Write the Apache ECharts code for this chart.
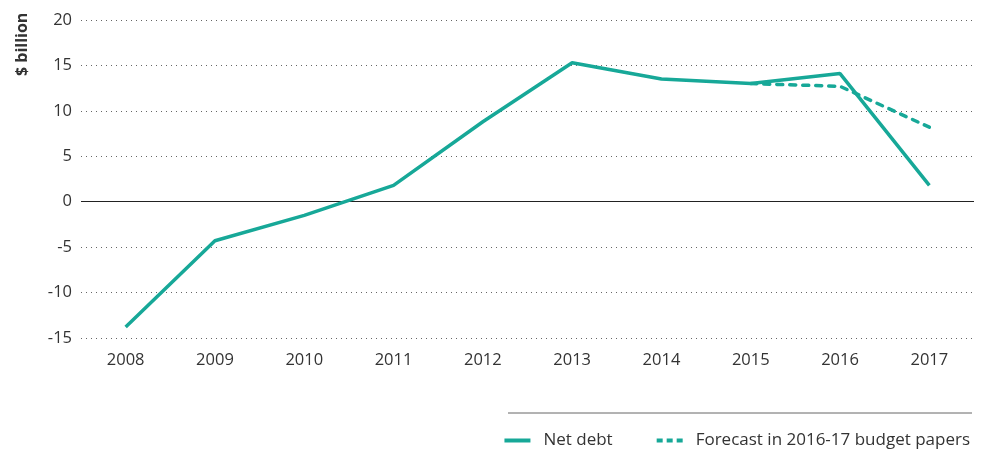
<!DOCTYPE html>
<html>
<head>
<meta charset="utf-8">
<script src="https://cdn.jsdelivr.net/npm/echarts@6/dist/echarts.min.js"></script>
<style>
  html, body { margin: 0; padding: 0; background: #fff; }
  #chart { width: 983px; height: 450px; }
</style>
</head>
<body>
<div id="chart"></div>
<script>
// Financial years and net debt, $ billion
const years = ['2008', '2009', '2010', '2011', '2012', '2013', '2014', '2015', '2016', '2017'];
const netDebt = [-13.8, -4.3, -1.5, 1.8, 8.8, 15.3, 13.5, 13.0, 14.1, 1.8];
const forecast = [null, null, null, null, null, null, null, 13.0, 12.7, 8.2];
const yTicks = { min: -15, max: 20, interval: 5 };

const teal = '#17a898';
const textColor = '#333333';
const font = 'Open Sans';

// Legend swatches: a solid bar and a row of short dashes
const solidIcon = 'path://M0,0h26v4h-26z';
const dashIcon = 'path://M0,0h6v4h-6z M10,0h6v4h-6z M20,0h6v4h-6z';

const chart = echarts.init(document.getElementById('chart'));
chart.setOption({
  animation: false,
  grid: { left: 81, right: 9, top: 20, bottom: 112 },
  textStyle: { fontFamily: font },
  xAxis: {
    type: 'category',
    data: years,
    boundaryGap: true,
    axisLine: { show: false, onZero: false },
    axisTick: { show: false },
    axisLabel: { color: textColor, fontSize: 16.5, margin: 14, fontFamily: font }
  },
  yAxis: {
    type: 'value',
    min: yTicks.min,
    max: yTicks.max,
    interval: yTicks.interval,
    axisLine: { show: false },
    axisTick: { show: false },
    axisLabel: { color: textColor, fontSize: 16.5, margin: 9, fontFamily: font },
    splitLine: { lineStyle: { color: '#666', type: [1, 4], width: 1 } }
  },
  legend: {
    right: 8,
    top: 427,
    itemWidth: 26,
    itemHeight: 4,
    itemGap: 44,
    textStyle: { color: textColor, fontSize: 17, fontFamily: font, padding: [0, 0, 0, 8] },
    data: [
      { name: 'Net debt', icon: solidIcon, itemStyle: { color: teal } },
      { name: 'Forecast in 2016-17 budget papers', icon: dashIcon, itemStyle: { color: teal } }
    ]
  },
  graphic: [
    {
      type: 'text',
      rotation: Math.PI / 2,
      style: {
        text: '$ billion',
        fill: textColor,
        font: 'bold 16px "Open Sans"'
      },
      x: 14, y: 76
    },
    {
      type: 'line',
      shape: { x1: 508, y1: 413, x2: 972, y2: 413 },
      style: { stroke: '#666', lineWidth: 1 }
    }
  ],
  series: [
    {
      name: 'Forecast in 2016-17 budget papers',
      type: 'line',
      data: forecast,
      showSymbol: false,
      symbol: 'none',
      lineStyle: { color: teal, width: 3.5, type: [6, 7], cap: 'round' },
      itemStyle: { color: teal },
      z: 3
    },
    {
      name: 'Net debt',
      type: 'line',
      data: netDebt,
      showSymbol: false,
      symbol: 'none',
      lineStyle: { color: teal, width: 3.5 },
      itemStyle: { color: teal },
      z: 4,
      markLine: {
        silent: true,
        symbol: 'none',
        label: { show: false },
        lineStyle: { color: '#222', type: 'solid', width: 1.2 },
        data: [{ yAxis: 0 }],
        z: 1
      }
    }
  ]
});
</script>
</body>
</html>
